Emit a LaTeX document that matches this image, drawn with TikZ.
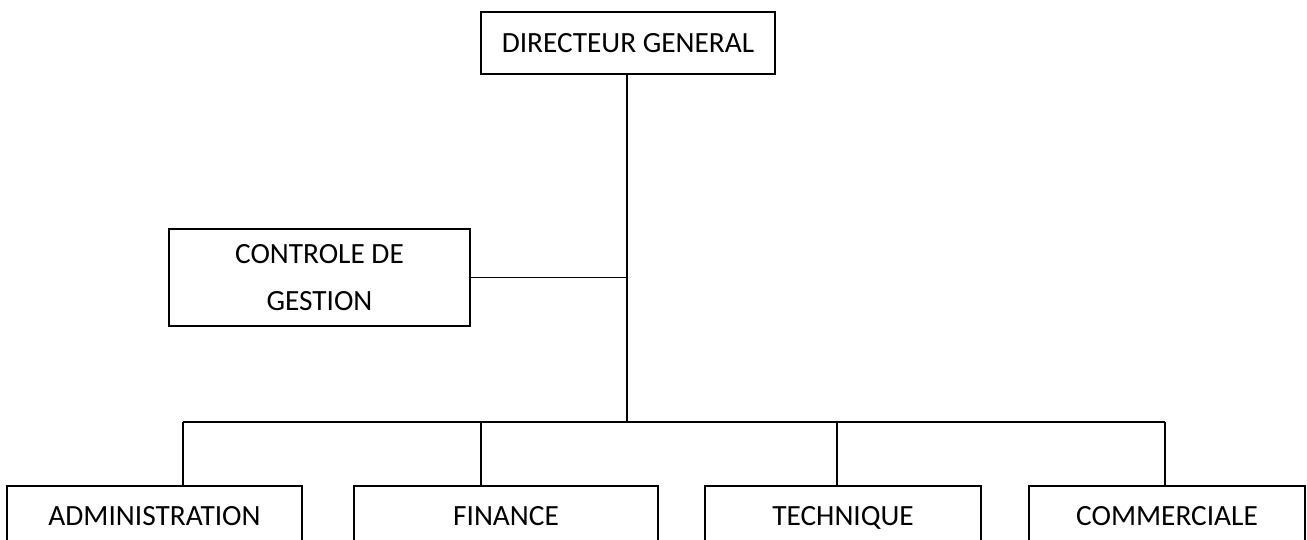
\documentclass[tikz,border=0pt]{standalone}
\usepackage{fontspec}
\setmainfont{Carlito}
\usepackage{tikz}

\tikzset{
  boite/.style={draw, line width=0.8pt, align=center, inner sep=0pt,
                font=\fontsize{16.7}{26.5}\selectfont},
  service/.style={boite, minimum height=1.30cm, text height=11.5pt, text depth=3.5pt},
  lien/.style={line width=0.8pt}
}

\begin{document}
\begin{tikzpicture}[x=0.02cm, y=-0.02cm]
        \useasboundingbox (0,0) rectangle (1307,540);
        % Direction et controle de gestion
        \node[boite, minimum width=5.88cm, minimum height=1.24cm] (dg) at (628,43) {DIRECTEUR GENERAL};
        \node[boite, minimum width=6.02cm, minimum height=1.94cm] (cg) at (319.5,277.5) {CONTROLE DE\\GESTION};
        % Services
        \node[service, minimum width=5.90cm] (adm) at (154.5,518.5) {ADMINISTRATION};
        \node[service, minimum width=6.08cm] (fin) at (506,518.5) {FINANCE};
        \node[service, minimum width=5.52cm] (tech) at (843,518.5) {TECHNIQUE};
        \node[service, minimum width=5.52cm] (com) at (1167,518.5) {COMMERCIALE};
        % Liaisons
        \coordinate (bus) at (627,422);
        \coordinate (b1) at (183,422);
        \coordinate (b2) at (481,422);
        \coordinate (b3) at (837,422);
        \coordinate (b4) at (1165,422);
        \draw[lien] (dg.south -| bus) -- (bus);
        \draw[lien] (cg.east) -- (cg.east -| bus);
        \draw[lien] (b1) -- (b4);
        \draw[lien] (b1) -- (b1 |- adm.north);
        \draw[lien] (b2) -- (b2 |- fin.north);
        \draw[lien] (b3) -- (b3 |- tech.north);
        \draw[lien] (b4) -- (b4 |- com.north);
\end{tikzpicture}
\end{document}
